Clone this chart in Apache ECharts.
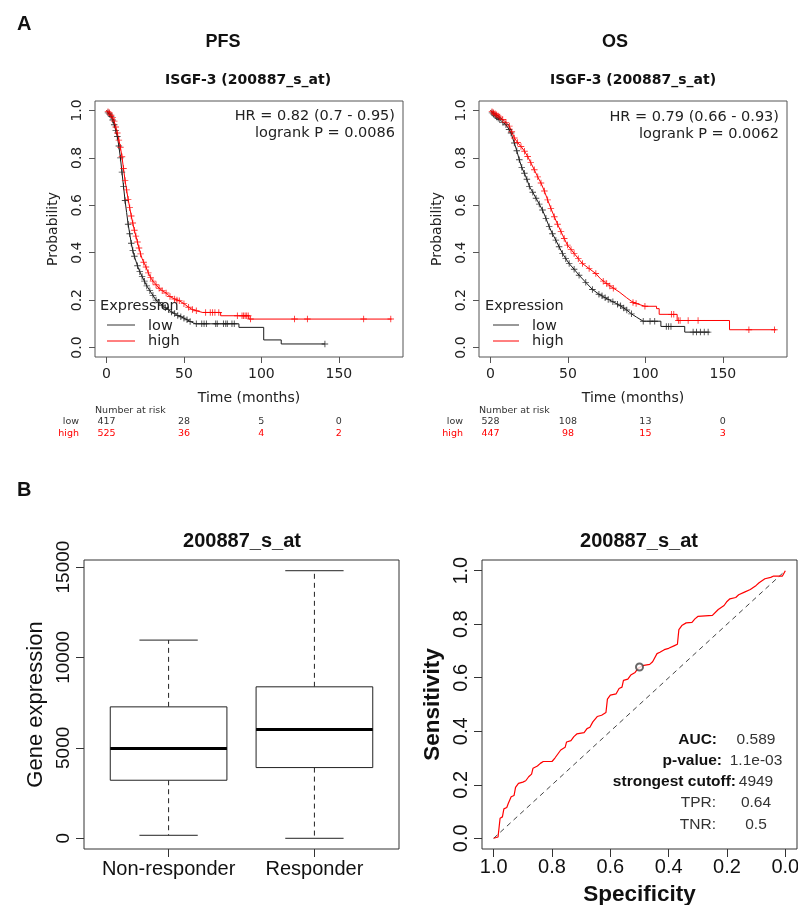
<!DOCTYPE html>
<html><head><meta charset="utf-8">
<script src="https://cdn.jsdelivr.net/npm/echarts@6/dist/echarts.min.js"></script>
<style>html,body{margin:0;padding:0;background:#fff;}#c{width:798px;height:905px;}</style>
</head><body><div id="c"></div>
<script>
// ---------------- data ----------------
const kmTimeTicks = [0, 50, 100, 150];
const probTicks = [0, 0.2, 0.4, 0.6, 0.8, 1.0];

const pfsLow = [[0,1.0],[1,0.99],[2,0.985],[3,0.975],[4,0.96],[5,0.94],[6,0.915],[7,0.89],[8,0.85],[9,0.80],[10,0.74],[11,0.68],[12,0.62],[13,0.57],[14,0.52],[15,0.48],[16,0.44],[17,0.41],[18,0.385],[19,0.365],[20,0.345],[21.5,0.32],[23,0.30],[24.5,0.28],[26,0.26],[28,0.24],[30,0.22],[32,0.20],[34,0.19],[36,0.178],[38,0.168],[40,0.16],[42,0.15],[44,0.143],[46,0.135],[48,0.13],[50,0.124],[52,0.117],[54,0.11],[56,0.104],[57.7,0.10],[85.5,0.10],[85.5,0.085],[101.5,0.085],[101.5,0.032],[112.8,0.032],[112.8,0.015],[141,0.015]];
const pfsLowCensor = [[1,0.99],[2,0.985],[3,0.975],[4,0.96],[5,0.94],[6,0.915],[7,0.89],[8,0.85],[9,0.80],[10,0.74],[11,0.68],[12,0.62],[14,0.52],[15,0.48],[16,0.44],[17,0.41],[18,0.385],[20,0.345],[21.5,0.32],[23,0.30],[24.5,0.28],[26,0.26],[28,0.24],[30,0.22],[32,0.20],[34,0.19],[36,0.178],[38,0.168],[40,0.16],[42,0.15],[44,0.143],[46,0.135],[48,0.13],[50,0.124],[52,0.117],[54,0.11],[58,0.1],[61.5,0.1],[63,0.1],[64.5,0.1],[70.5,0.1],[71.5,0.1],[75.5,0.1],[77,0.1],[78,0.1],[81,0.1],[82.5,0.1],[141,0.015]];
const pfsHigh = [[0,1.0],[1,0.995],[2,0.99],[3,0.98],[4,0.97],[5,0.955],[6,0.93],[7,0.905],[8,0.875],[9,0.845],[10,0.805],[11,0.755],[12,0.705],[13,0.665],[14,0.625],[15,0.59],[16,0.555],[17,0.525],[18,0.495],[19,0.47],[20,0.445],[21,0.42],[22,0.395],[23,0.375],[24,0.36],[25.5,0.34],[27,0.315],[28.5,0.295],[30,0.28],[32,0.265],[34,0.25],[36,0.24],[38.5,0.23],[41,0.215],[44,0.205],[47,0.197],[50,0.185],[53,0.17],[55.5,0.16],[58,0.155],[62,0.148],[73.7,0.148],[73.7,0.134],[91.9,0.134],[91.9,0.12],[184,0.12]];
const pfsHighCensor = [[1,0.995],[2,0.99],[3,0.98],[4,0.97],[5,0.955],[6,0.93],[7,0.905],[8,0.875],[9,0.845],[10,0.805],[11,0.755],[12,0.705],[13,0.665],[14,0.625],[15,0.59],[16,0.555],[17,0.525],[18,0.495],[19,0.47],[20,0.445],[21,0.42],[22,0.395],[24,0.36],[25.5,0.34],[27,0.315],[28.5,0.295],[30,0.28],[32,0.265],[34,0.25],[36,0.24],[38.5,0.23],[41,0.215],[44,0.205],[45.5,0.2],[47,0.197],[50,0.185],[53,0.17],[55.5,0.16],[58,0.155],[64,0.148],[67,0.148],[68.5,0.148],[70,0.148],[72.5,0.148],[84.5,0.134],[87.5,0.134],[88.5,0.134],[89.5,0.134],[90.5,0.134],[91.5,0.134],[93,0.12],[121.4,0.12],[129.7,0.12],[166,0.12],[183.5,0.12]];

const osLow = [[0,1.0],[2,0.985],[4,0.972],[6,0.962],[8,0.95],[10,0.94],[12,0.92],[13.3,0.905],[14.5,0.88],[15.4,0.863],[17,0.83],[18.6,0.792],[20.2,0.76],[21.9,0.735],[23.5,0.71],[25.1,0.68],[27.3,0.655],[29.4,0.63],[31.5,0.605],[33.6,0.58],[35.8,0.545],[37.9,0.51],[40,0.48],[42.2,0.453],[44.3,0.425],[46.5,0.397],[48.6,0.375],[50.8,0.354],[54,0.33],[57.2,0.305],[61.5,0.275],[65.8,0.245],[70,0.225],[74,0.21],[79,0.193],[84,0.176],[88,0.158],[91,0.142],[94.3,0.128],[98.6,0.111],[110,0.111],[110,0.089],[125.4,0.089],[125.4,0.065],[141.5,0.065]];
const osLowCensor = [[1,0.99],[2,0.985],[3,0.978],[4,0.972],[5,0.967],[6,0.962],[8,0.95],[10,0.94],[12,0.92],[13.3,0.905],[15.4,0.863],[17,0.83],[18.6,0.792],[20.2,0.76],[21.9,0.735],[23.5,0.71],[25.1,0.68],[27.3,0.655],[29.4,0.63],[31.5,0.605],[33.6,0.58],[35.8,0.545],[37.9,0.51],[40,0.48],[42.2,0.453],[44.3,0.425],[46.5,0.397],[48.6,0.375],[50.8,0.354],[54,0.33],[57.2,0.305],[61.5,0.275],[65.8,0.245],[70,0.225],[72,0.218],[74,0.21],[76,0.203],[79,0.193],[82,0.183],[84,0.176],[86,0.167],[88,0.158],[91,0.142],[98.6,0.111],[103,0.111],[106,0.111],[113.5,0.089],[115,0.089],[116.5,0.089],[130.8,0.065],[133,0.065],[135.5,0.065],[138,0.065],[140.5,0.065]];
const osHigh = [[0,1.0],[2,0.99],[4,0.982],[6,0.972],[7.9,0.962],[10,0.95],[12.2,0.934],[13.8,0.91],[15.4,0.884],[17.5,0.865],[19.7,0.848],[22,0.828],[24,0.806],[26,0.78],[28.3,0.75],[30.5,0.72],[32.6,0.694],[34.8,0.66],[36.9,0.623],[39,0.587],[41.2,0.552],[43.3,0.52],[45.5,0.489],[47.6,0.46],[49.7,0.432],[52,0.414],[54,0.397],[56.7,0.375],[59.4,0.354],[63.7,0.333],[68,0.312],[71,0.29],[74.5,0.272],[79,0.252],[83,0.235],[87.9,0.21],[91,0.195],[94.3,0.185],[99.7,0.174],[107.2,0.174],[107.2,0.164],[108.9,0.164],[108.9,0.14],[120.5,0.14],[120.5,0.114],[154.3,0.114],[154.3,0.075],[184.4,0.075]];
const osHighCensor = [[1,0.995],[2,0.99],[3,0.986],[4,0.982],[5,0.977],[6,0.972],[7.9,0.962],[10,0.95],[12.2,0.934],[13.8,0.91],[15.4,0.884],[17.5,0.865],[19.7,0.848],[22,0.828],[24,0.806],[26,0.78],[28.3,0.75],[30.5,0.72],[32.6,0.694],[34.8,0.66],[36.9,0.623],[39,0.587],[41.2,0.552],[43.3,0.52],[45.5,0.489],[47.6,0.46],[49.7,0.432],[52,0.414],[54,0.397],[56.7,0.375],[59.4,0.354],[63.7,0.333],[68,0.312],[72.8,0.28],[75,0.27],[77,0.26],[79.3,0.25],[92,0.19],[94,0.186],[99.7,0.174],[116.8,0.14],[118.3,0.14],[121.3,0.114],[122.4,0.114],[127.6,0.114],[134,0.114],[166.8,0.075],[183.3,0.075]];

const riskTimes = [0, 50, 100, 150];
const pfsRiskLow = [417, 28, 5, 0];
const pfsRiskHigh = [525, 36, 4, 2];
const osRiskLow = [528, 108, 13, 0];
const osRiskHigh = [447, 98, 15, 3];

const boxGroups = ['Non-responder', 'Responder'];
// [lower whisker, Q1, median, Q3, upper whisker]
const boxStats = [[166, 3210, 4965, 7268, 10960], [0, 3911, 6014, 8376, 14797]];
const exprTicks = [0, 5000, 10000, 15000];

const rocTicks = [0, 0.2, 0.4, 0.6, 0.8, 1.0];
// [specificity, sensitivity]
const rocCurve = [[1.0,0],[0.985,0.005],[0.98,0.005],[0.978,0.075],[0.97,0.08],[0.965,0.11],[0.955,0.115],[0.95,0.13],[0.94,0.155],[0.93,0.16],[0.925,0.19],[0.915,0.205],[0.9,0.21],[0.89,0.215],[0.88,0.23],[0.87,0.24],[0.865,0.262],[0.85,0.27],[0.84,0.28],[0.83,0.287],[0.80,0.287],[0.79,0.3],[0.78,0.315],[0.77,0.33],[0.755,0.34],[0.75,0.36],[0.735,0.365],[0.725,0.38],[0.715,0.39],[0.69,0.395],[0.68,0.41],[0.67,0.415],[0.66,0.435],[0.645,0.455],[0.63,0.46],[0.615,0.47],[0.61,0.52],[0.6,0.535],[0.58,0.54],[0.57,0.56],[0.56,0.565],[0.555,0.59],[0.54,0.595],[0.53,0.61],[0.515,0.62],[0.505,0.635],[0.5,0.642],[0.49,0.645],[0.465,0.65],[0.455,0.66],[0.44,0.69],[0.43,0.695],[0.415,0.705],[0.4,0.71],[0.38,0.72],[0.37,0.725],[0.365,0.78],[0.355,0.795],[0.34,0.805],[0.32,0.807],[0.31,0.82],[0.3,0.829],[0.25,0.833],[0.23,0.855],[0.21,0.87],[0.2,0.885],[0.19,0.895],[0.17,0.9],[0.16,0.91],[0.14,0.92],[0.12,0.93],[0.1,0.945],[0.09,0.955],[0.07,0.97],[0.05,0.975],[0.04,0.98],[0.01,0.98],[0,1.0]];
const rocDiagonal = [[1, 0], [0, 1]];
const rocBest = [[0.5, 0.64]];
const rocStats = [['AUC:', '0.589'], ['p-value:', '1.1e-03'], ['strongest cutoff:', '4949'], ['TPR:', '0.64'], ['TNR:', '0.5']];

// ---------------- styling ----------------
const DJ = 'DejaVu Sans';
const LS = 'Liberation Sans, Arial, sans-serif';
const BLACK = '#1a1a1a';
const RED = '#ff0000';
const PLUS = 'path://M4.3,0H5.7V4.3H10V5.7H5.7V10H4.3V5.7H0V4.3H4.3Z';

function kmX(idx, gi) {
  return {gridIndex: gi, type: 'value', min: -7.4, max: 191.4,
    axisLine: {show: false, onZero: false},
    axisTick: {show: true, length: 6, customValues: kmTimeTicks, lineStyle: {color: '#555'}},
    axisLabel: {customValues: kmTimeTicks, margin: 10, fontSize: 14, color: '#222', fontFamily: DJ},
    splitLine: {show: false},
    name: 'Time (months)', nameLocation: 'middle', nameGap: 34,
    nameTextStyle: {fontSize: 14, color: '#222', fontFamily: DJ}};
}
function kmY(gi) {
  return {gridIndex: gi, type: 'value', min: -0.04, max: 1.04,
    axisLine: {show: false, onZero: false},
    axisTick: {show: true, length: 6, customValues: probTicks, lineStyle: {color: '#555'}},
    axisLabel: {customValues: probTicks, rotate: 90, margin: 11, fontSize: 14, color: '#222', fontFamily: DJ,
      formatter: v => v.toFixed(1)},
    splitLine: {show: false},
    name: 'Probability', nameLocation: 'middle', nameGap: 35, nameRotate: 90,
    nameTextStyle: {fontSize: 14, color: '#222', fontFamily: DJ}};
}
function kmLine(data, color, ai) {
  return {type: 'line', xAxisIndex: ai, yAxisIndex: ai, data: data, showSymbol: false, symbol: 'none',
    lineStyle: {color: color, width: 1}, silent: true, animation: false, z: 3};
}
function kmCensor(data, color, ai) {
  return {type: 'scatter', xAxisIndex: ai, yAxisIndex: ai, data: data, symbol: PLUS, symbolSize: 6.5,
    itemStyle: {color: color}, silent: true, animation: false, z: 4};
}

const chart = echarts.init(document.getElementById('c'));

const boxData = boxStats.map((s, i) => [i + 1].concat(s));

const gridBase = {show: true, borderWidth: 1, containLabel: false, outerBoundsMode: 'none'};
const option = {
  backgroundColor: '#fff',
  animation: false,
  grid: [
    Object.assign({left: 95, top: 101, width: 308, height: 256, borderColor: '#555'}, gridBase),
    Object.assign({left: 479, top: 101, width: 308, height: 256, borderColor: '#555'}, gridBase),
    Object.assign({left: 84, top: 560, width: 315, height: 289, borderColor: '#333'}, gridBase),
    Object.assign({left: 482, top: 560, width: 315, height: 289, borderColor: '#333'}, gridBase)
  ],
  xAxis: [
    kmX(0, 0), kmX(1, 1),
    {gridIndex: 2, type: 'value', min: 0.42, max: 2.58,
      axisLine: {show: false, onZero: false},
      axisTick: {show: true, length: 8, customValues: [1, 2], lineStyle: {color: '#333'}},
      axisLabel: {customValues: [1, 2], margin: 10, fontSize: 20, color: '#111', fontFamily: LS,
        formatter: v => boxGroups[Math.round(v) - 1]},
      splitLine: {show: false}},
    {gridIndex: 3, type: 'value', min: -0.04, max: 1.04, inverse: true,
      axisLine: {show: false, onZero: false},
      axisTick: {show: true, length: 8, customValues: rocTicks, lineStyle: {color: '#333'}},
      axisLabel: {customValues: rocTicks, margin: 8, fontSize: 20, color: '#111', fontFamily: LS,
        formatter: v => v.toFixed(1)},
      splitLine: {show: false},
      name: 'Specificity', nameLocation: 'middle', nameGap: 34,
      nameTextStyle: {fontSize: 22.5, fontWeight: 'bold', color: '#111', fontFamily: LS}}
  ],
  yAxis: [
    kmY(0), kmY(1),
    {gridIndex: 2, type: 'value', min: -592, max: 15389,
      axisLine: {show: false, onZero: false},
      axisTick: {show: true, length: 8, customValues: exprTicks, lineStyle: {color: '#333'}},
      axisLabel: {customValues: exprTicks, rotate: 90, margin: 11, fontSize: 19, color: '#111', fontFamily: LS,
        formatter: v => String(v)},
      splitLine: {show: false},
      name: 'Gene expression', nameLocation: 'middle', nameGap: 37, nameRotate: 90,
      nameTextStyle: {fontSize: 22, color: '#111', fontFamily: LS}},
    {gridIndex: 3, type: 'value', min: -0.04, max: 1.04,
      axisLine: {show: false, onZero: false},
      axisTick: {show: true, length: 8, customValues: rocTicks, lineStyle: {color: '#333'}},
      axisLabel: {customValues: rocTicks, rotate: 90, margin: 11, fontSize: 20, color: '#111', fontFamily: LS,
        formatter: v => v.toFixed(1)},
      splitLine: {show: false},
      name: 'Sensitivity', nameLocation: 'middle', nameGap: 38, nameRotate: 90,
      nameTextStyle: {fontSize: 22.5, fontWeight: 'bold', color: '#111', fontFamily: LS}}
  ],
  series: [
    kmLine(pfsLow, BLACK, 0), kmCensor(pfsLowCensor, BLACK, 0),
    kmLine(pfsHigh, RED, 0), kmCensor(pfsHighCensor, RED, 0),
    kmLine(osLow, BLACK, 1), kmCensor(osLowCensor, BLACK, 1),
    kmLine(osHigh, RED, 1), kmCensor(osHighCensor, RED, 1),
    {type: 'custom', xAxisIndex: 2, yAxisIndex: 2, data: boxData, silent: true, animation: false,
      encode: {x: 0, y: [1, 2, 3, 4, 5]},
      renderItem: function (params, api) {
        const x = api.value(0);
        const lo = api.coord([x, api.value(1)]);
        const q1 = api.coord([x, api.value(2)]);
        const md = api.coord([x, api.value(3)]);
        const q3 = api.coord([x, api.value(4)]);
        const hi = api.coord([x, api.value(5)]);
        const bw = api.size([0.8, 0])[0];
        const cw = api.size([0.4, 0])[0];
        const cx = lo[0];
        const st = {stroke: '#222', lineWidth: 1};
        return {type: 'group', children: [
          {type: 'line', shape: {x1: cx, y1: q3[1], x2: cx, y2: hi[1]}, style: {stroke: '#222', lineWidth: 1, lineDash: [5, 4]}},
          {type: 'line', shape: {x1: cx, y1: q1[1], x2: cx, y2: lo[1]}, style: {stroke: '#222', lineWidth: 1, lineDash: [5, 4]}},
          {type: 'line', shape: {x1: cx - cw / 2, y1: hi[1], x2: cx + cw / 2, y2: hi[1]}, style: st},
          {type: 'line', shape: {x1: cx - cw / 2, y1: lo[1], x2: cx + cw / 2, y2: lo[1]}, style: st},
          {type: 'rect', shape: {x: cx - bw / 2, y: q3[1], width: bw, height: q1[1] - q3[1]}, style: {fill: '#fff', stroke: '#222', lineWidth: 1}},
          {type: 'line', shape: {x1: cx - bw / 2, y1: md[1], x2: cx + bw / 2, y2: md[1]}, style: {stroke: '#000', lineWidth: 3}}
        ]};
      }},
    {type: 'line', xAxisIndex: 3, yAxisIndex: 3, data: rocDiagonal, showSymbol: false, symbol: 'none',
      lineStyle: {color: '#444', width: 1, type: [5, 4]}, silent: true, animation: false},
    {type: 'line', xAxisIndex: 3, yAxisIndex: 3, data: rocCurve, showSymbol: false, symbol: 'none',
      lineStyle: {color: RED, width: 1.2}, silent: true, animation: false, z: 3},
    {type: 'scatter', xAxisIndex: 3, yAxisIndex: 3, data: rocBest, symbol: 'emptyCircle', symbolSize: 7,
      itemStyle: {color: '#444', borderWidth: 1.2}, silent: true, animation: false, z: 4}
  ]
};
chart.setOption(option);

// ---------------- texts (positions from the library's scales where tied to data) ----------------
const g = [];
function txt(text, x, y, o) {
  g.push(Object.assign({type: 'text', x: x, y: y, silent: true,
    style: Object.assign({text: text, fill: '#222', font: '14px ' + DJ, textAlign: 'left', textVerticalAlign: 'middle'}, o || {})}));
}
function seg(x1, y1, x2, y2, color) {
  g.push({type: 'line', silent: true, shape: {x1: x1, y1: y1, x2: x2, y2: y2}, style: {stroke: color, lineWidth: 1}});
}
// panel letters & titles
txt('A', 17, 24, {font: 'bold 20px ' + LS, fill: '#111'});
txt('B', 17, 490, {font: 'bold 20px ' + LS, fill: '#111'});
txt('PFS', 223, 42, {font: 'bold 18px ' + LS, fill: '#111', textAlign: 'center'});
txt('OS', 615, 42, {font: 'bold 18px ' + LS, fill: '#111', textAlign: 'center'});
txt('ISGF-3 (200887_s_at)', 248, 80, {font: 'bold 14px ' + DJ, fill: '#111', textAlign: 'center'});
txt('ISGF-3 (200887_s_at)', 633, 80, {font: 'bold 14px ' + DJ, fill: '#111', textAlign: 'center'});
txt('200887_s_at', 242, 541, {font: 'bold 20px ' + LS, fill: '#111', textAlign: 'center'});
txt('200887_s_at', 639, 541, {font: 'bold 20px ' + LS, fill: '#111', textAlign: 'center'});
// HR texts
txt('HR = 0.82 (0.7 - 0.95)', 395, 116, {textAlign: 'right', font: '14.5px ' + DJ});
txt('logrank P = 0.0086', 395, 133, {textAlign: 'right', font: '14.5px ' + DJ});
txt('HR = 0.79 (0.66 - 0.93)', 779, 117, {textAlign: 'right', font: '14.5px ' + DJ});
txt('logrank P = 0.0062', 779, 134, {textAlign: 'right', font: '14.5px ' + DJ});
// KM legends
[[100, 107, 135, 148], [485, 493, 519, 532]].forEach(p => {
  txt('Expression', p[0], 306, {font: '14.5px ' + DJ});
  seg(p[1], 325, p[2], 325, '#333');
  seg(p[1], 341, p[2], 341, RED);
  txt('low', p[3], 326, {font: '14.5px ' + DJ});
  txt('high', p[3], 341.5, {font: '14.5px ' + DJ});
});
// number at risk tables
function riskTable(ai, left, lowArr, highArr) {
  const rs = '9.5px ' + DJ;
  txt('Number at risk', left, 411, {font: rs, fill: '#333'});
  txt('low', left - 16, 422, {font: rs, fill: '#333', textAlign: 'right'});
  txt('high', left - 16, 434, {font: rs, fill: RED, textAlign: 'right'});
  riskTimes.forEach((t, i) => {
    const px = chart.convertToPixel({xAxisIndex: ai}, t);
    txt(String(lowArr[i]), px, 422, {font: rs, fill: '#333', textAlign: 'center'});
    txt(String(highArr[i]), px, 434, {font: rs, fill: RED, textAlign: 'center'});
  });
}
riskTable(0, 95, pfsRiskLow, pfsRiskHigh);
riskTable(1, 479, osRiskLow, osRiskHigh);
// ROC statistics
const statLabelRight = [717, 722, 736, 716, 716];
const statY = [740, 761, 782, 803, 825];
rocStats.forEach((s, i) => {
  const bold = i < 3;
  txt(s[0], statLabelRight[i], statY[i], {textAlign: 'right', font: (bold ? 'bold ' : '') + '15.5px ' + LS, fill: bold ? '#111' : '#333'});
  txt(s[1], 756, statY[i], {textAlign: 'center', font: '15.5px ' + LS, fill: '#333'});
});
chart.setOption({graphic: g});
</script>
</body></html>
